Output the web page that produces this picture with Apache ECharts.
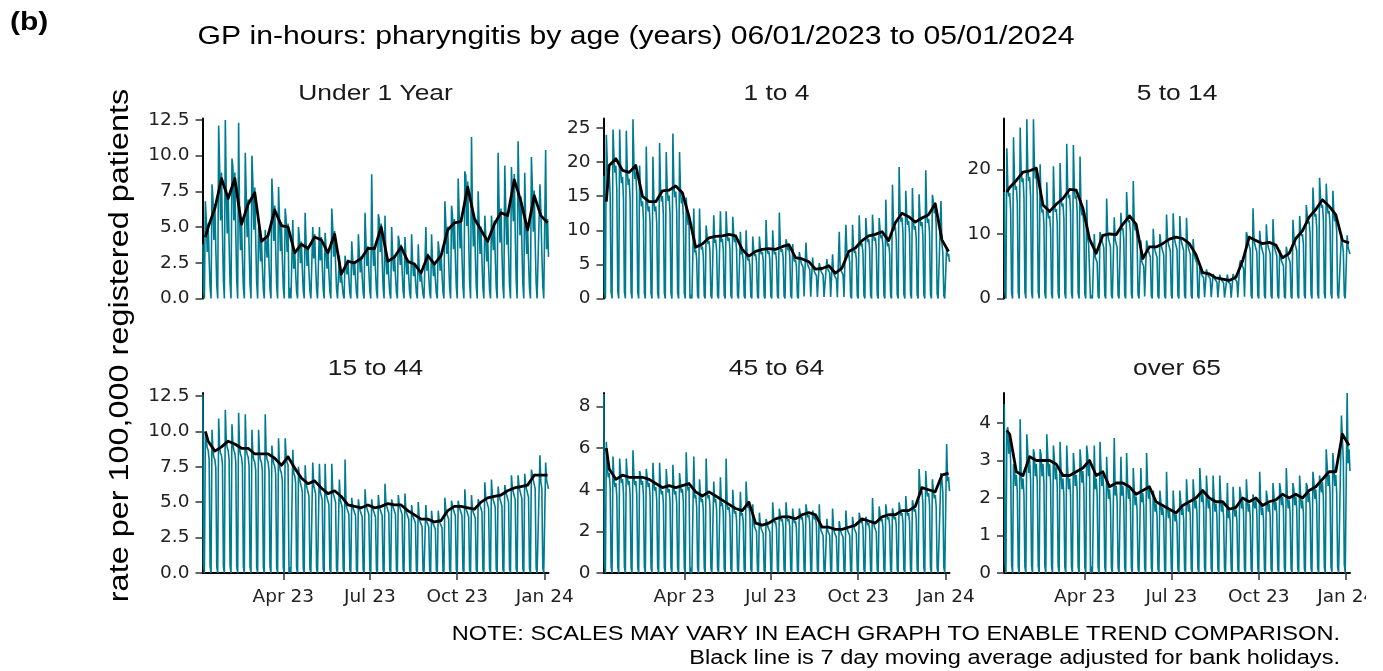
<!DOCTYPE html>
<html>
<head>
<meta charset="utf-8">
<title>GP in-hours: pharyngitis by age</title>
<script src="https://cdn.jsdelivr.net/npm/echarts@6/dist/echarts.min.js"></script>
<style>
  html, body { margin: 0; padding: 0; background: #fff; }
  #chart { width: 1383px; height: 671px; }
</style>
</head>
<body>
<div id="chart"></div>
<script>
// facet names
const panelNames = ['Under 1 Year', '1 to 4', '5 to 14', '15 to 44', '45 to 64', 'over 65'];

// Monday peak of each week (week 0 = Mon 09/01/2023 ... week 51 = Mon 01/01/2024)
const peakUnder1 = [6.8, 8.0, 12.1, 12.5, 9.8, 12.3, 10.2, 10.0, 5.0, 4.8, 8.4, 7.8, 6.3, 5.5, 5.0, 6.0, 5.0, 5.0, 4.6, 6.3, 3.0, 3.0, 4.0, 4.5, 6.0, 8.7, 5.9, 5.8, 5.0, 4.4, 4.3, 4.5, 3.8, 5.0, 4.5, 4.0, 6.8, 6.5, 8.4, 8.9, 11.3, 7.5, 5.8, 5.8, 10.2, 9.3, 9.2, 11.0, 8.8, 9.9, 8.0, 10.4];
const peak1to4 = [24.0, 24.8, 24.8, 24.6, 26.3, 19.5, 22.3, 20.8, 22.8, 21.5, 24.2, 21.5, 14.8, 13.2, 13.2, 10.7, 12.2, 12.8, 12.8, 12.0, 9.8, 10.0, 9.1, 9.1, 11.5, 10.0, 12.6, 8.7, 8.0, 6.8, 8.2, 6.0, 5.2, 5.8, 6.5, 9.8, 10.8, 10.8, 12.2, 11.8, 12.3, 11.8, 14.5, 16.7, 19.3, 15.8, 16.2, 15.3, 18.8, 15.2, 14.3, 7.5];
const peak5to14 = [23.3, 25.0, 26.5, 27.8, 27.8, 20.8, 18.0, 20.5, 21.0, 24.0, 23.8, 22.0, 15.3, 10.0, 10.3, 15.5, 12.6, 13.3, 16.5, 18.2, 9.0, 9.0, 10.8, 10.0, 13.0, 13.2, 12.8, 12.5, 9.2, 5.3, 4.5, 3.8, 3.7, 3.7, 3.8, 5.5, 10.3, 14.0, 10.5, 11.5, 12.3, 7.5, 8.0, 12.2, 12.8, 14.5, 17.2, 18.7, 17.8, 16.7, 10.0, 9.8];
const peak15to44 = [9.8, 10.1, 10.9, 11.5, 10.5, 11.3, 11.2, 10.1, 10.1, 11.2, 9.0, 9.5, 9.5, 8.7, 7.5, 7.6, 7.8, 7.7, 7.7, 7.7, 6.6, 8.0, 5.3, 5.2, 5.9, 5.2, 5.5, 6.3, 5.2, 5.5, 5.6, 4.8, 5.0, 4.8, 4.4, 4.4, 5.3, 5.1, 5.1, 5.9, 5.5, 5.2, 6.4, 6.6, 6.1, 6.2, 6.9, 6.9, 7.0, 7.3, 8.3, 7.8];
const peak45to64 = [6.3, 5.6, 5.5, 5.5, 5.9, 4.9, 5.0, 5.3, 5.3, 5.0, 5.2, 4.8, 5.8, 5.6, 4.5, 5.5, 4.4, 4.6, 5.5, 4.0, 3.9, 4.4, 3.3, 2.9, 2.6, 3.4, 3.1, 3.4, 3.1, 3.1, 3.3, 3.0, 3.3, 2.6, 3.1, 2.5, 3.0, 2.7, 2.9, 2.7, 3.6, 3.2, 3.3, 3.1, 3.4, 3.7, 3.5, 5.0, 4.9, 4.5, 4.8, 6.2];
const peakOver65 = [3.8, 2.9, 4.1, 3.7, 3.3, 3.3, 3.7, 3.4, 3.5, 3.4, 3.2, 3.3, 3.4, 3.4, 3.5, 3.1, 3.6, 3.1, 3.2, 2.8, 2.8, 3.2, 2.2, 2.2, 2.7, 2.2, 2.2, 2.5, 2.5, 2.8, 2.6, 2.6, 2.6, 2.4, 2.3, 2.3, 2.5, 2.1, 2.7, 2.2, 2.4, 2.4, 2.8, 2.4, 2.6, 2.4, 2.7, 2.6, 3.3, 3.2, 4.2, 4.8];

// 7 day moving average, read at the Thursday of each week
const avgUnder1 = [5.0, 6.3, 8.4, 7.0, 8.4, 5.2, 6.6, 7.4, 4.0, 4.4, 6.2, 5.1, 5.0, 3.2, 3.8, 3.5, 4.3, 4.1, 3.2, 4.5, 1.7, 2.6, 2.5, 2.8, 3.5, 3.5, 5.0, 2.6, 2.9, 3.6, 2.6, 2.4, 1.8, 3.0, 2.4, 3.0, 4.8, 5.3, 5.4, 7.8, 5.6, 4.8, 4.0, 5.2, 6.0, 5.8, 8.3, 6.8, 4.8, 7.2, 5.8, 5.3];
const avg1to4 = [19.5, 20.5, 18.8, 18.5, 19.5, 15.0, 14.2, 14.2, 15.8, 15.9, 16.5, 15.5, 12.0, 7.5, 8.0, 8.9, 9.1, 9.2, 9.4, 9.2, 7.2, 6.2, 6.9, 7.2, 7.3, 7.2, 7.6, 7.9, 6.0, 5.8, 5.4, 4.3, 4.4, 4.8, 3.7, 4.5, 6.9, 7.4, 8.5, 9.2, 9.4, 9.8, 8.5, 11.1, 12.5, 12.0, 11.2, 11.8, 12.3, 13.9, 8.6, 6.9];
const avg5to14 = [17.2, 18.3, 19.6, 19.8, 20.2, 14.5, 13.5, 14.6, 15.5, 16.9, 16.8, 14.0, 9.2, 7.0, 9.8, 10.0, 9.9, 11.5, 12.8, 11.5, 6.2, 8.0, 8.0, 8.5, 9.2, 9.5, 9.3, 8.5, 6.8, 4.0, 3.8, 3.2, 3.0, 2.8, 3.3, 5.8, 9.5, 9.0, 8.5, 8.7, 8.3, 6.3, 7.0, 9.3, 10.5, 12.6, 13.8, 15.3, 14.3, 13.0, 9.0, 8.6];
const avg15to44 = [9.3, 8.6, 8.9, 9.3, 9.1, 8.8, 8.8, 8.4, 8.4, 8.4, 8.1, 7.6, 8.2, 7.4, 6.7, 6.3, 6.5, 6.0, 5.6, 5.8, 5.4, 4.8, 4.7, 4.6, 4.8, 4.6, 4.7, 4.9, 4.8, 4.8, 4.4, 4.1, 3.8, 3.8, 3.6, 3.7, 4.4, 4.7, 4.7, 4.6, 4.5, 5.0, 5.3, 5.4, 5.5, 5.8, 6.0, 6.1, 6.2, 6.9, 6.9, 6.9];
const avg45to64 = [5.0, 4.5, 4.7, 4.6, 4.6, 4.6, 4.5, 4.3, 4.1, 4.2, 4.1, 4.2, 4.3, 3.9, 3.7, 3.9, 3.7, 3.5, 3.3, 3.1, 3.0, 3.4, 2.4, 2.3, 2.4, 2.6, 2.7, 2.7, 2.6, 2.8, 2.9, 2.8, 2.2, 2.2, 2.1, 2.1, 2.2, 2.3, 2.6, 2.5, 2.4, 2.7, 2.8, 2.8, 3.0, 3.0, 3.2, 4.1, 4.0, 3.9, 4.7, 4.8];
const avgOver65 = [3.7, 2.7, 2.6, 3.1, 3.0, 3.0, 3.0, 2.9, 2.6, 2.6, 2.7, 2.8, 3.0, 2.6, 2.7, 2.3, 2.4, 2.4, 2.3, 2.1, 2.2, 2.3, 1.9, 1.8, 1.7, 1.6, 1.8, 1.9, 2.0, 2.2, 2.0, 1.9, 1.9, 1.7, 1.75, 2.0, 1.9, 2.0, 1.8, 1.9, 1.95, 2.1, 2.0, 2.1, 2.0, 2.2, 2.3, 2.5, 2.7, 2.7, 3.7, 3.4];

// first Friday (06/01/2023) value, and the average on Monday 09/01/2023
const firstFriday = [3.8, 18.0, 16.5, 12.6, 8.6, 4.5];
const avgStart = [4.3, 14.2, 16.5, 10.0, 6.0, 3.8];

// Tue..Fri level relative to the weekly average, and Saturday share
const weekdayShape = [
  [1.1, 0.65, 1.05, 0.55],
  [1.02, 0.9, 0.95, 0.78],
  [1.02, 0.92, 0.95, 0.8],
  [1.0, 0.95, 0.93, 0.86],
  [1.02, 0.92, 0.96, 0.82],
  [1.05, 0.86, 0.97, 0.8]
];
const saturdayShare = [0.15, 0.05, 0.05, 0.05, 0.06, 0.06];

const bankHolidays = ['2023-04-07', '2023-04-10', '2023-05-01', '2023-05-08', '2023-05-29',
  '2023-08-28', '2023-12-25', '2023-12-26', '2024-01-01'];

// axes
const yMax = [12.6, 26.4, 27.9, 12.7, 8.65, 4.8];
const yTicks = [[0, 2.5, 5, 7.5, 10, 12.5], [0, 5, 10, 15, 20, 25], [0, 10, 20],
  [0, 2.5, 5, 7.5, 10, 12.5], [0, 2, 4, 6, 8], [0, 1, 2, 3, 4]];
const yTickLabels = [['0.0', '2.5', '5.0', '7.5', '10.0', '12.5'], ['0', '5', '10', '15', '20', '25'], ['0', '10', '20'],
  ['0.0', '2.5', '5.0', '7.5', '10.0', '12.5'], ['0', '2', '4', '6', '8'], ['0', '1', '2', '3', '4']];
const xTickDates = ['2023-04-01', '2023-07-01', '2023-10-01', '2024-01-01'];
const xTickLabels = ['Apr 23', 'Jul 23', 'Oct 23', 'Jan 24'];

const weekPeaks = [peakUnder1, peak1to4, peak5to14, peak15to44, peak45to64, peakOver65];
const weekAvgs = [avgUnder1, avg1to4, avg5to14, avg15to44, avg45to64, avgOver65];

const DAY = 86400000;
const T0 = Date.UTC(2023, 0, 6);
const T1 = T0 + 364 * DAY;
const holidays = new Set(bankHolidays.map(s => Date.parse(s)));
const xTicks = xTickDates.map(s => Date.parse(s));

// daily rates: Monday (or first day back after a holiday) peak, weekdays near the average, weekends ~0
function dailyRates(i) {
  const peak = weekPeaks[i], avg = weekAvgs[i], shape = weekdayShape[i];
  const out = [[T0 + DAY * 0.35, firstFriday[i]], [T0 + DAY, firstFriday[i] * saturdayShare[i]], [T0 + 2 * DAY, 0]];
  for (let k = 0; k < peak.length; k++) {
    let carry = false;
    for (let p = 0; p < 7; p++) {
      const d = 3 + 7 * k + p;
      if (d > 364) break;
      const t = T0 + d * DAY;
      let v;
      if (holidays.has(t) || p === 6) {
        v = 0;
        if (p === 0) carry = true;
      } else if (p === 5) {
        v = avg[k] * saturdayShare[i];
      } else if (p === 0 || carry) {
        v = peak[k];
        carry = false;
      } else {
        v = avg[k] * shape[p - 1];
      }
      out.push([t, v]);
    }
  }
  return out;
}

function movingAvg(i) {
  return [[T0 + 3 * DAY, avgStart[i]]].concat(weekAvgs[i].map((v, k) => [T0 + (6 + 7 * k) * DAY, v]));
}

const colLeft = [202.5, 603.5, 1004];
const rowTop = [118.5, 393];
const plotW = 346, plotH = 180;
const TEAL = '#007C91';
const labelFont = 'DejaVu Sans';
const textFont = 'Liberation Sans, Arial, sans-serif';
const STRETCH = 1.2;

const chart = echarts.init(document.getElementById('chart'));

const graphic = [
  { type: 'text', x: 10, y: 23.5, scaleX: STRETCH,
    style: { text: '(b)', fontFamily: textFont, fontSize: 25, fontWeight: 'bold', fill: '#000', align: 'left', verticalAlign: 'middle' } },
  { type: 'text', x: 636, y: 37, scaleX: 1.16,
    style: { text: 'GP in-hours: pharyngitis by age (years) 06/01/2023 to 05/01/2024', fontFamily: textFont, fontSize: 26, fill: '#000', align: 'center', verticalAlign: 'middle' } },
  { type: 'text', x: 121, y: 345.5, rotation: Math.PI / 2, scaleX: STRETCH,
    style: { text: 'rate per 100,000 registered patients', fontFamily: textFont, fontSize: 27, fill: '#000', align: 'center', verticalAlign: 'middle' } },
  { type: 'text', x: 1340, y: 634, scaleX: 1.18,
    style: { text: 'NOTE: SCALES MAY VARY IN EACH GRAPH TO ENABLE TREND COMPARISON.', fontFamily: textFont, fontSize: 20, fill: '#000', align: 'right', verticalAlign: 'middle' } },
  { type: 'text', x: 1340, y: 658, scaleX: 1.18,
    style: { text: 'Black line is 7 day moving average adjusted for bank holidays.', fontFamily: textFont, fontSize: 20, fill: '#000', align: 'right', verticalAlign: 'middle' } },
  // the reference image is cut at its right edge
  { type: 'rect', z: 100, shape: { x: 1366, y: 582, width: 17, height: 32 }, style: { fill: '#fff' } }
];
panelNames.forEach((name, i) => {
  graphic.push({ type: 'text', x: colLeft[i % 3] + plotW / 2, y: i < 3 ? 94 : 368.5, scaleX: STRETCH,
    style: { text: name, fontFamily: textFont, fontSize: 22, fill: '#1a1a1a', align: 'center', verticalAlign: 'middle' } });
});

const option = {
  animation: false,
  backgroundColor: '#fff',
  graphic: graphic,
  grid: panelNames.map((_, i) => ({
    left: colLeft[i % 3], top: rowTop[Math.floor(i / 3)], width: plotW, height: plotH
  })),
  xAxis: panelNames.map((_, i) => ({
    type: 'value', gridIndex: i, min: T0, max: T1, show: i >= 3,
    axisLine: { onZero: false, lineStyle: { color: '#000', width: 2 } },
    axisTick: { length: 7, customValues: xTicks, lineStyle: { color: '#333', width: 1.5 } },
    axisLabel: {
      customValues: xTicks, margin: 15, color: '#222', fontFamily: labelFont, fontSize: 18.5,
      formatter: v => xTickLabels[xTicks.indexOf(v)] || ''
    },
    splitLine: { show: false }
  })),
  yAxis: panelNames.map((_, i) => ({
    type: 'value', gridIndex: i, min: 0, max: yMax[i],
    axisLine: { show: true, onZero: false, lineStyle: { color: '#000', width: 2 } },
    axisTick: { show: true, length: 7, customValues: yTicks[i], lineStyle: { color: '#333', width: 1.5 } },
    axisLabel: {
      customValues: yTicks[i], margin: 13, color: '#222', fontFamily: labelFont, fontSize: 18.5,
      formatter: v => {
        const j = yTicks[i].indexOf(v);
        return j >= 0 ? yTickLabels[i][j] : '';
      }
    },
    splitLine: { show: false }
  })),
  series: []
};

panelNames.forEach((name, i) => {
  option.series.push({
    name: name + ' daily', type: 'line', xAxisIndex: i, yAxisIndex: i,
    showSymbol: false, data: dailyRates(i),
    lineStyle: { color: TEAL, width: 1.6 }, z: 2
  });
  option.series.push({
    name: name + ' 7 day average', type: 'line', xAxisIndex: i, yAxisIndex: i,
    showSymbol: false, data: movingAvg(i),
    lineStyle: { color: '#000', width: 2.8, join: 'round' }, z: 3
  });
});

chart.setOption(option);
</script>
</body>
</html>
